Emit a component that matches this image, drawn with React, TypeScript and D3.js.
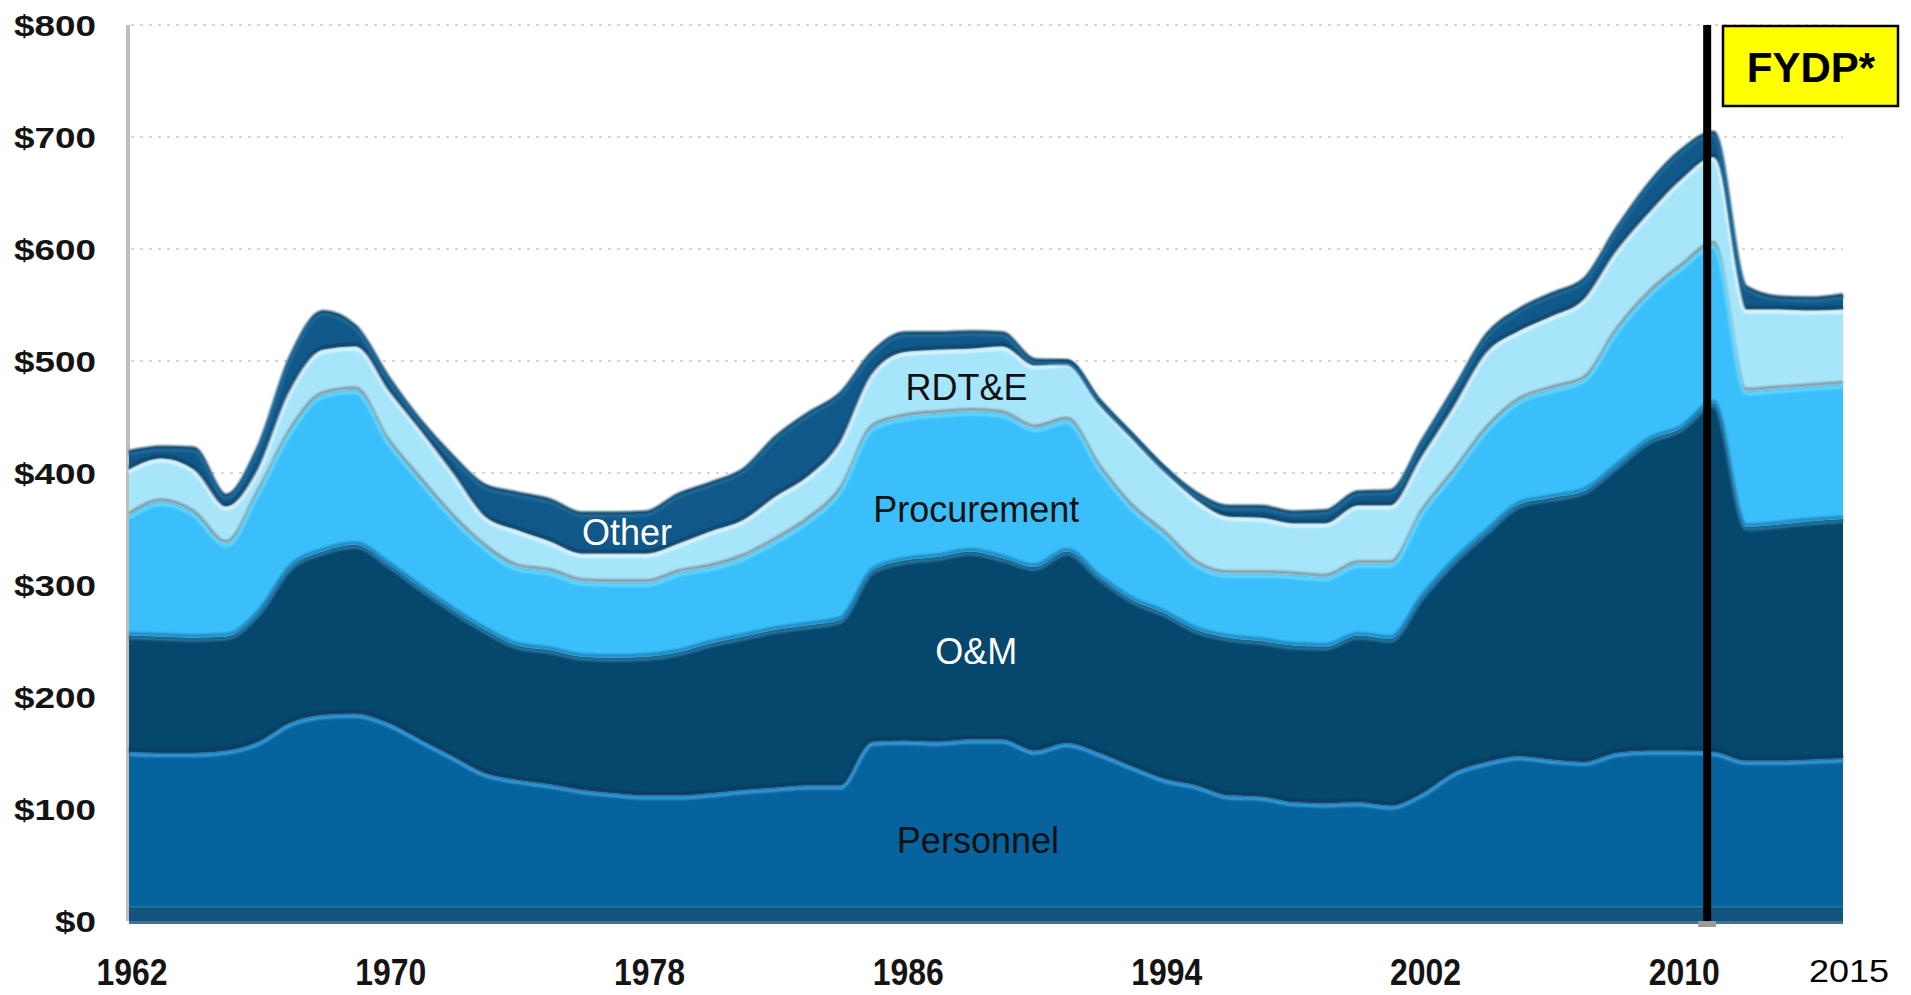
import React from 'react';
import * as d3 from 'd3';

// ---- Data (constant-dollar budget authority, $B) ----
const years = [
  1962, 1963, 1964, 1965, 1966, 1967, 1968, 1969, 1970, 1971,
  1972, 1973, 1974, 1975, 1976, 1977, 1978, 1979, 1980, 1981,
  1982, 1983, 1984, 1985, 1986, 1987, 1988, 1989, 1990, 1991,
  1992, 1993, 1994, 1995, 1996, 1997, 1998, 1999, 2000, 2001,
  2002, 2003, 2004, 2005, 2006, 2007, 2008, 2009, 2010, 2011,
  2012, 2013, 2014, 2015,
];
const personnel = [
  151, 150, 150, 152, 160, 177, 184, 185, 177, 162,
  147, 132, 126, 122, 117, 114, 112, 112, 114, 117,
  119, 121, 121, 160, 161, 160, 162, 162, 152, 159,
  150, 138, 127, 121, 112, 111, 106, 105, 106, 103,
  114, 133, 142, 147, 144, 142, 150, 152, 152, 151,
  143, 143, 144, 145,
];
const operationsMaintenance = [
  104, 104, 103, 102, 115, 139, 146, 151, 142, 136,
  131, 128, 120, 120, 119, 121, 124, 128, 134, 137,
  141, 143, 148, 153, 161, 165, 168, 162, 164, 171,
  157, 149, 148, 139, 141, 139, 140, 140, 149, 149,
  176, 189, 206, 225, 234, 242, 256, 277, 288, 311,
  209, 211, 213, 214,
];
const procurement = [
  107, 120, 111, 83, 108, 122, 140, 138, 110, 96,
  83, 74, 70, 70, 67, 67, 66, 71, 68, 71,
  80, 94, 116, 128, 128, 128, 125, 129, 124, 117,
  98, 83, 71, 59, 57, 60, 63, 62, 64, 67,
  76, 80, 92, 93, 97, 100, 121, 131, 144, 142,
  121, 121, 120, 120,
];
const rdte = [
  41, 39, 39, 33, 20, 36, 40, 39, 45, 44,
  39, 27, 33, 27, 25, 26, 26, 26, 32, 33,
  39, 39, 42, 48, 58, 57, 56, 60, 56, 51,
  57, 62, 57, 57, 51, 50, 46, 48, 52, 52,
  49, 58, 68, 62, 65, 71, 71, 72, 78, 78,
  73, 71, 68, 67,
];
const other = [
  16, 10, 19, 10, 20, 30, 34, 18, 12, 9,
  15, 28, 33, 37, 36, 36, 37, 44, 43, 45,
  53, 56, 44, 19, 17, 15, 15, 12, 5, 2,
  3, 3, 2, 6, 9, 10, 10, 11, 12, 13,
  14, 16, 16, 19, 20, 18, 20, 26, 26, 22,
  20, 11, 11, 13,
];

const seriesKeys = ['Personnel', 'O&M', 'Procurement', 'RDT&E', 'Other'];
const yTickValues = [0, 100, 200, 300, 400, 500, 600, 700, 800];
const xTickYears = [1962, 1970, 1978, 1986, 1994, 2002, 2010];
const endYearLabel = '2015';
const fydpYear = 2010.8;
const fydpLabel = 'FYDP*';

// in-chart labels: [text, year, value, color]
const seriesLabels: [string, number, number, string][] = [
  ['RDT&E', 1987.9, 465, '#111111'],
  ['Procurement', 1988.2, 356, '#111111'],
  ['O&M', 1988.2, 229.5, '#ffffff'],
  ['Personnel', 1988.25, 61, '#111111'],
  ['Other', 1977.4, 336, '#ffffff'],
];

const layerStyle: Record<string, { fill: string; hi: string; sh: string }> = {
  Personnel: { fill: '#07639e', hi: '#3d9fde', sh: '#0a3a5b' },
  'O&M': { fill: '#05476d', hi: '#2a77a3', sh: '#1b86bd' },
  Procurement: { fill: '#3bbffa', hi: '#66d9ff', sh: '#7c94a0' },
  'RDT&E': { fill: '#a7e5fa', hi: '#dff7ff', sh: '#0a4264' },
  Other: { fill: '#10588a', hi: '#226d9b', sh: '#0a3f60' },
};

const FONT = "'Liberation Sans', Arial, Helvetica, sans-serif";

export default function App() {
  const W = 1911;
  const H = 995;
  const x = d3.scaleLinear().domain([1962, 2015]).range([129, 1843]);
  const y = d3.scaleLinear().domain([0, 800]).range([921, 25]);

  const rows = years.map((yr, i) => ({
    year: yr,
    Personnel: personnel[i],
    'O&M': operationsMaintenance[i],
    Procurement: procurement[i],
    'RDT&E': rdte[i],
    Other: other[i],
  }));

  const stacked = d3.stack<any>().keys(seriesKeys)(rows);

  const area = d3
    .area<any>()
    .x((d) => x(d.data.year))
    .y0((d) => y(d[0]))
    .y1((d) => y(d[1]))
    .curve(d3.curveMonotoneX);

  const topLine = d3
    .line<any>()
    .x((d) => x(d.data.year))
    .y((d) => y(d[1]))
    .curve(d3.curveMonotoneX);

  const fx = x(fydpYear);

  return (
    <div style={{ position: 'absolute', left: 0, top: 0 }}>
      <svg width={W} height={H} style={{ display: 'block', background: '#ffffff' }}>
        <defs>
          <filter id="soft" x="-5%" y="-5%" width="110%" height="110%">
            <feGaussianBlur stdDeviation="0.9" />
          </filter>
        </defs>

        {/* gridlines */}
        {yTickValues.map((v) => (
          <line
            key={'g' + v}
            x1={x(1962) + 2}
            x2={x(2015)}
            y1={y(v)}
            y2={y(v)}
            stroke="#d6d6d6"
            strokeWidth={2}
            strokeDasharray="3,6"
          />
        ))}

        {/* y axis line */}
        <line x1={x(1962) - 1} x2={x(1962) - 1} y1={y(800)} y2={y(0)} stroke="#bdbdbd" strokeWidth={4} />

        {/* areas */}
        {stacked.map((s) => (
          <path key={'a' + s.key} d={area(s) || ''} fill={layerStyle[s.key].fill} />
        ))}

        {/* bevel edges */}
        {stacked.map((s, i) => {
          const st = layerStyle[s.key];
          const d = topLine(s) || '';
          const isTop = i === stacked.length - 1;
          return (
            <g key={'e' + s.key} filter="url(#soft)">
              {isTop ? (
                <path d={d} fill="none" stroke={st.sh} strokeWidth={3.5} />
              ) : (
                <path d={d} fill="none" stroke={st.sh} strokeWidth={3} transform="translate(0,-2)" />
              )}
              <path d={d} fill="none" stroke={st.hi} strokeWidth={3} transform="translate(0,2.5)" />
            </g>
          );
        })}

        {/* floor strip */}
        <rect x={x(1962)} y={y(0) - 14} width={x(2015) - x(1962)} height={17} fill="#174f74" opacity={0.8} />
        <line x1={x(1962)} x2={x(2015)} y1={y(0) - 14} y2={y(0) - 14} stroke="#4d8fbd" strokeWidth={1} opacity={0.7} />

        {/* series labels */}
        {seriesLabels.map(([t, yr, v, c]) => (
          <text
            key={'l' + t}
            x={x(yr)}
            y={y(v)}
            textAnchor="middle"
            fontFamily={FONT}
            fontSize={36}
            fill={c}
          >
            {t}
          </text>
        ))}

        {/* FYDP line */}
        <line x1={fx} x2={fx} y1={y(800)} y2={y(0) + 3} stroke="#000000" strokeWidth={8} />
        <rect x={fx - 9} y={y(0)} width={18} height={6} fill="#9a9a9a" />

        {/* FYDP box */}
        <rect x={1723} y={26} width={175} height={80} fill="#ffff00" stroke="#000000" strokeWidth={2.5} />
        <text x={1811} y={82} textAnchor="middle" fontFamily={FONT} fontWeight="bold" fontSize={42} fill="#000">
          {fydpLabel}
        </text>

        {/* y tick labels */}
        {yTickValues.map((v) => {
          const label = '$' + v;
          return (
            <text
              key={'y' + v}
              x={96}
              y={y(v) + 11}
              textAnchor="end"
              fontFamily={FONT}
              fontWeight="bold"
              fontSize={30}
              fill="#141414"
              textLength={label.length * 20.5}
              lengthAdjust="spacingAndGlyphs"
            >
              {label}
            </text>
          );
        })}

        {/* x tick labels */}
        {xTickYears.map((yr) => (
          <text
            key={'x' + yr}
            x={x(yr) + 3}
            y={985}
            textAnchor="middle"
            fontFamily={FONT}
            fontWeight="bold"
            fontSize={36}
            fill="#141414"
            textLength={71}
            lengthAdjust="spacingAndGlyphs"
          >
            {yr}
          </text>
        ))}
        <text x={1849} y={982} textAnchor="middle" fontFamily={FONT} fontSize={32} fill="#000" textLength={80} lengthAdjust="spacingAndGlyphs">
          {endYearLabel}
        </text>
      </svg>
    </div>
  );
}
